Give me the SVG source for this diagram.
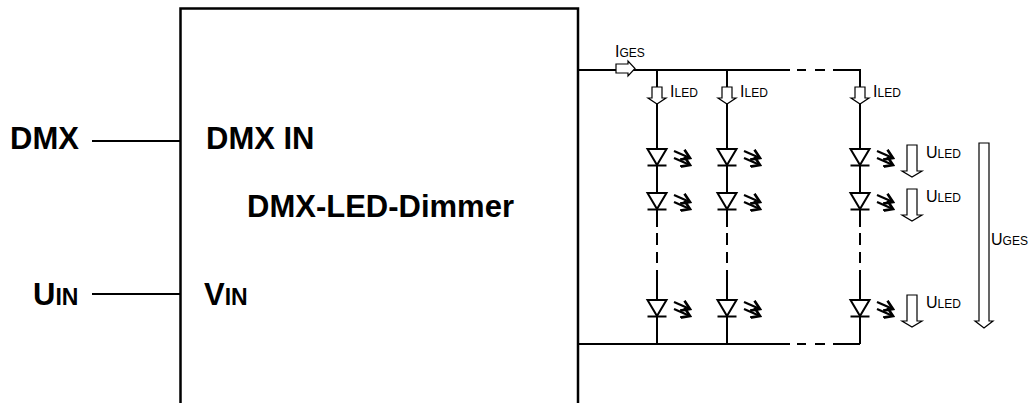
<svg xmlns="http://www.w3.org/2000/svg" width="1031" height="403" viewBox="0 0 1031 403">
<defs>
<style>
.w{stroke:#000;stroke-width:2;fill:none}
.box{stroke:#000;stroke-width:2.5;fill:none}
.ar{stroke:#000;stroke-width:1.2;fill:#fff}
.led{stroke:#000;stroke-width:2;fill:#fff}
.lt{stroke:#000;stroke-width:2.2;fill:none}
.big{font-family:"Liberation Sans",Arial,sans-serif;font-weight:bold;font-size:31px;fill:#000}
.sm{font-family:"Liberation Sans",Arial,sans-serif;font-size:12px;fill:#000}
</style>
<marker id="ah" markerUnits="userSpaceOnUse" markerWidth="12" markerHeight="12" refX="8" refY="5" orient="auto" viewBox="0 0 10 10">
<path d="M1,0.5 L8,5 L1,9.5" fill="none" stroke="#000" stroke-width="2.2"/>
</marker>
<g id="ledsym">
<path class="led" d="M-9.5,0 H9.5 L0,16 Z"/>
<path class="w" d="M-9.5,16.5 H9.5"/>
<path class="lt" d="M17,2 L33,9" marker-end="url(#ah)"/>
<path class="lt" d="M17,9 L33,16" marker-end="url(#ah)"/>
</g>
</defs>
<g id="dimmer">
<rect class="box" x="180.5" y="8.5" width="397.5" height="430"/>
<text class="big" x="206" y="149">DMX IN</text>
<text class="big" x="247" y="217">DMX-LED-Dimmer</text>
<text class="big" x="204" y="305">V<tspan style="font-size:23px">IN</tspan></text>
</g>
<g id="dmx">
<text class="big" x="10" y="149">DMX</text>
</g>
<g id="uin">
<text class="big" x="33" y="305">U<tspan style="font-size:23px">IN</tspan></text>
</g>
<g id="connectors">
<path class="w" d="M92,141 H180"/>
<path class="w" d="M92,294 H180"/>
<path class="w" d="M578,70 H790 M797,70 H806 M815,70 H825 M833,70 H860 V227 M860,233 V245 M860,252 V263 M860,270 V344"/>
<path class="w" d="M578,344 H790 M797,344 H806 M815,344 H825 M833,344 H860"/>
<path class="w" d="M657,70 V227 M657,233 V245 M657,252 V263 M657,270 V344"/>
<path class="w" d="M727,70 V227 M727,233 V245 M727,252 V263 M727,270 V344"/>
</g>
<g id="iges">
<path class="ar" d="M616,64 H628 V61 L635,68.5 L628,76 V73 H616 Z"/>
<text class="sm" x="615" y="57"><tspan style="font-size:16px">I</tspan>GES</text>
</g>
<g id="string1">
<path class="ar" d="M652,87 H662 V98 H666 L657,104 L648,98 H652 Z"/>
<text class="sm" x="670" y="97"><tspan style="font-size:16px">I</tspan>LED</text>
<use href="#ledsym" x="657" y="149"/>
<use href="#ledsym" x="657" y="193"/>
<use href="#ledsym" x="657" y="300"/>
</g>
<g id="string2">
<path class="ar" d="M722,87 H732 V98 H736 L727,104 L718,98 H722 Z"/>
<text class="sm" x="740" y="97"><tspan style="font-size:16px">I</tspan>LED</text>
<use href="#ledsym" x="727" y="149"/>
<use href="#ledsym" x="727" y="193"/>
<use href="#ledsym" x="727" y="300"/>
</g>
<g id="string3">
<path class="ar" d="M855,87 H865 V98 H869 L860,104 L851,98 H855 Z"/>
<text class="sm" x="873" y="97"><tspan style="font-size:16px">I</tspan>LED</text>
<use href="#ledsym" x="860" y="149"/>
<use href="#ledsym" x="860" y="193"/>
<use href="#ledsym" x="860" y="300"/>
</g>
<g id="uled1">
<path class="ar" d="M907,145 H917 V171 H922 L912,177 L902,171 H907 Z"/>
<text class="sm" x="926" y="158"><tspan style="font-size:16px">U</tspan>LED</text>
</g>
<g id="uled2">
<path class="ar" d="M907,189 H917 V215 H922 L912,221 L902,215 H907 Z"/>
<text class="sm" x="926" y="202"><tspan style="font-size:16px">U</tspan>LED</text>
</g>
<g id="uled3">
<path class="ar" d="M907,295 H917 V321 H922 L912,327 L902,321 H907 Z"/>
<text class="sm" x="926" y="308"><tspan style="font-size:16px">U</tspan>LED</text>
</g>
<g id="uges">
<path class="ar" d="M979,143 H989 V321 H993 L984,328 L975,321 H979 Z"/>
<text class="sm" x="991" y="245"><tspan style="font-size:16px">U</tspan>GES</text>
</g>
</svg>
